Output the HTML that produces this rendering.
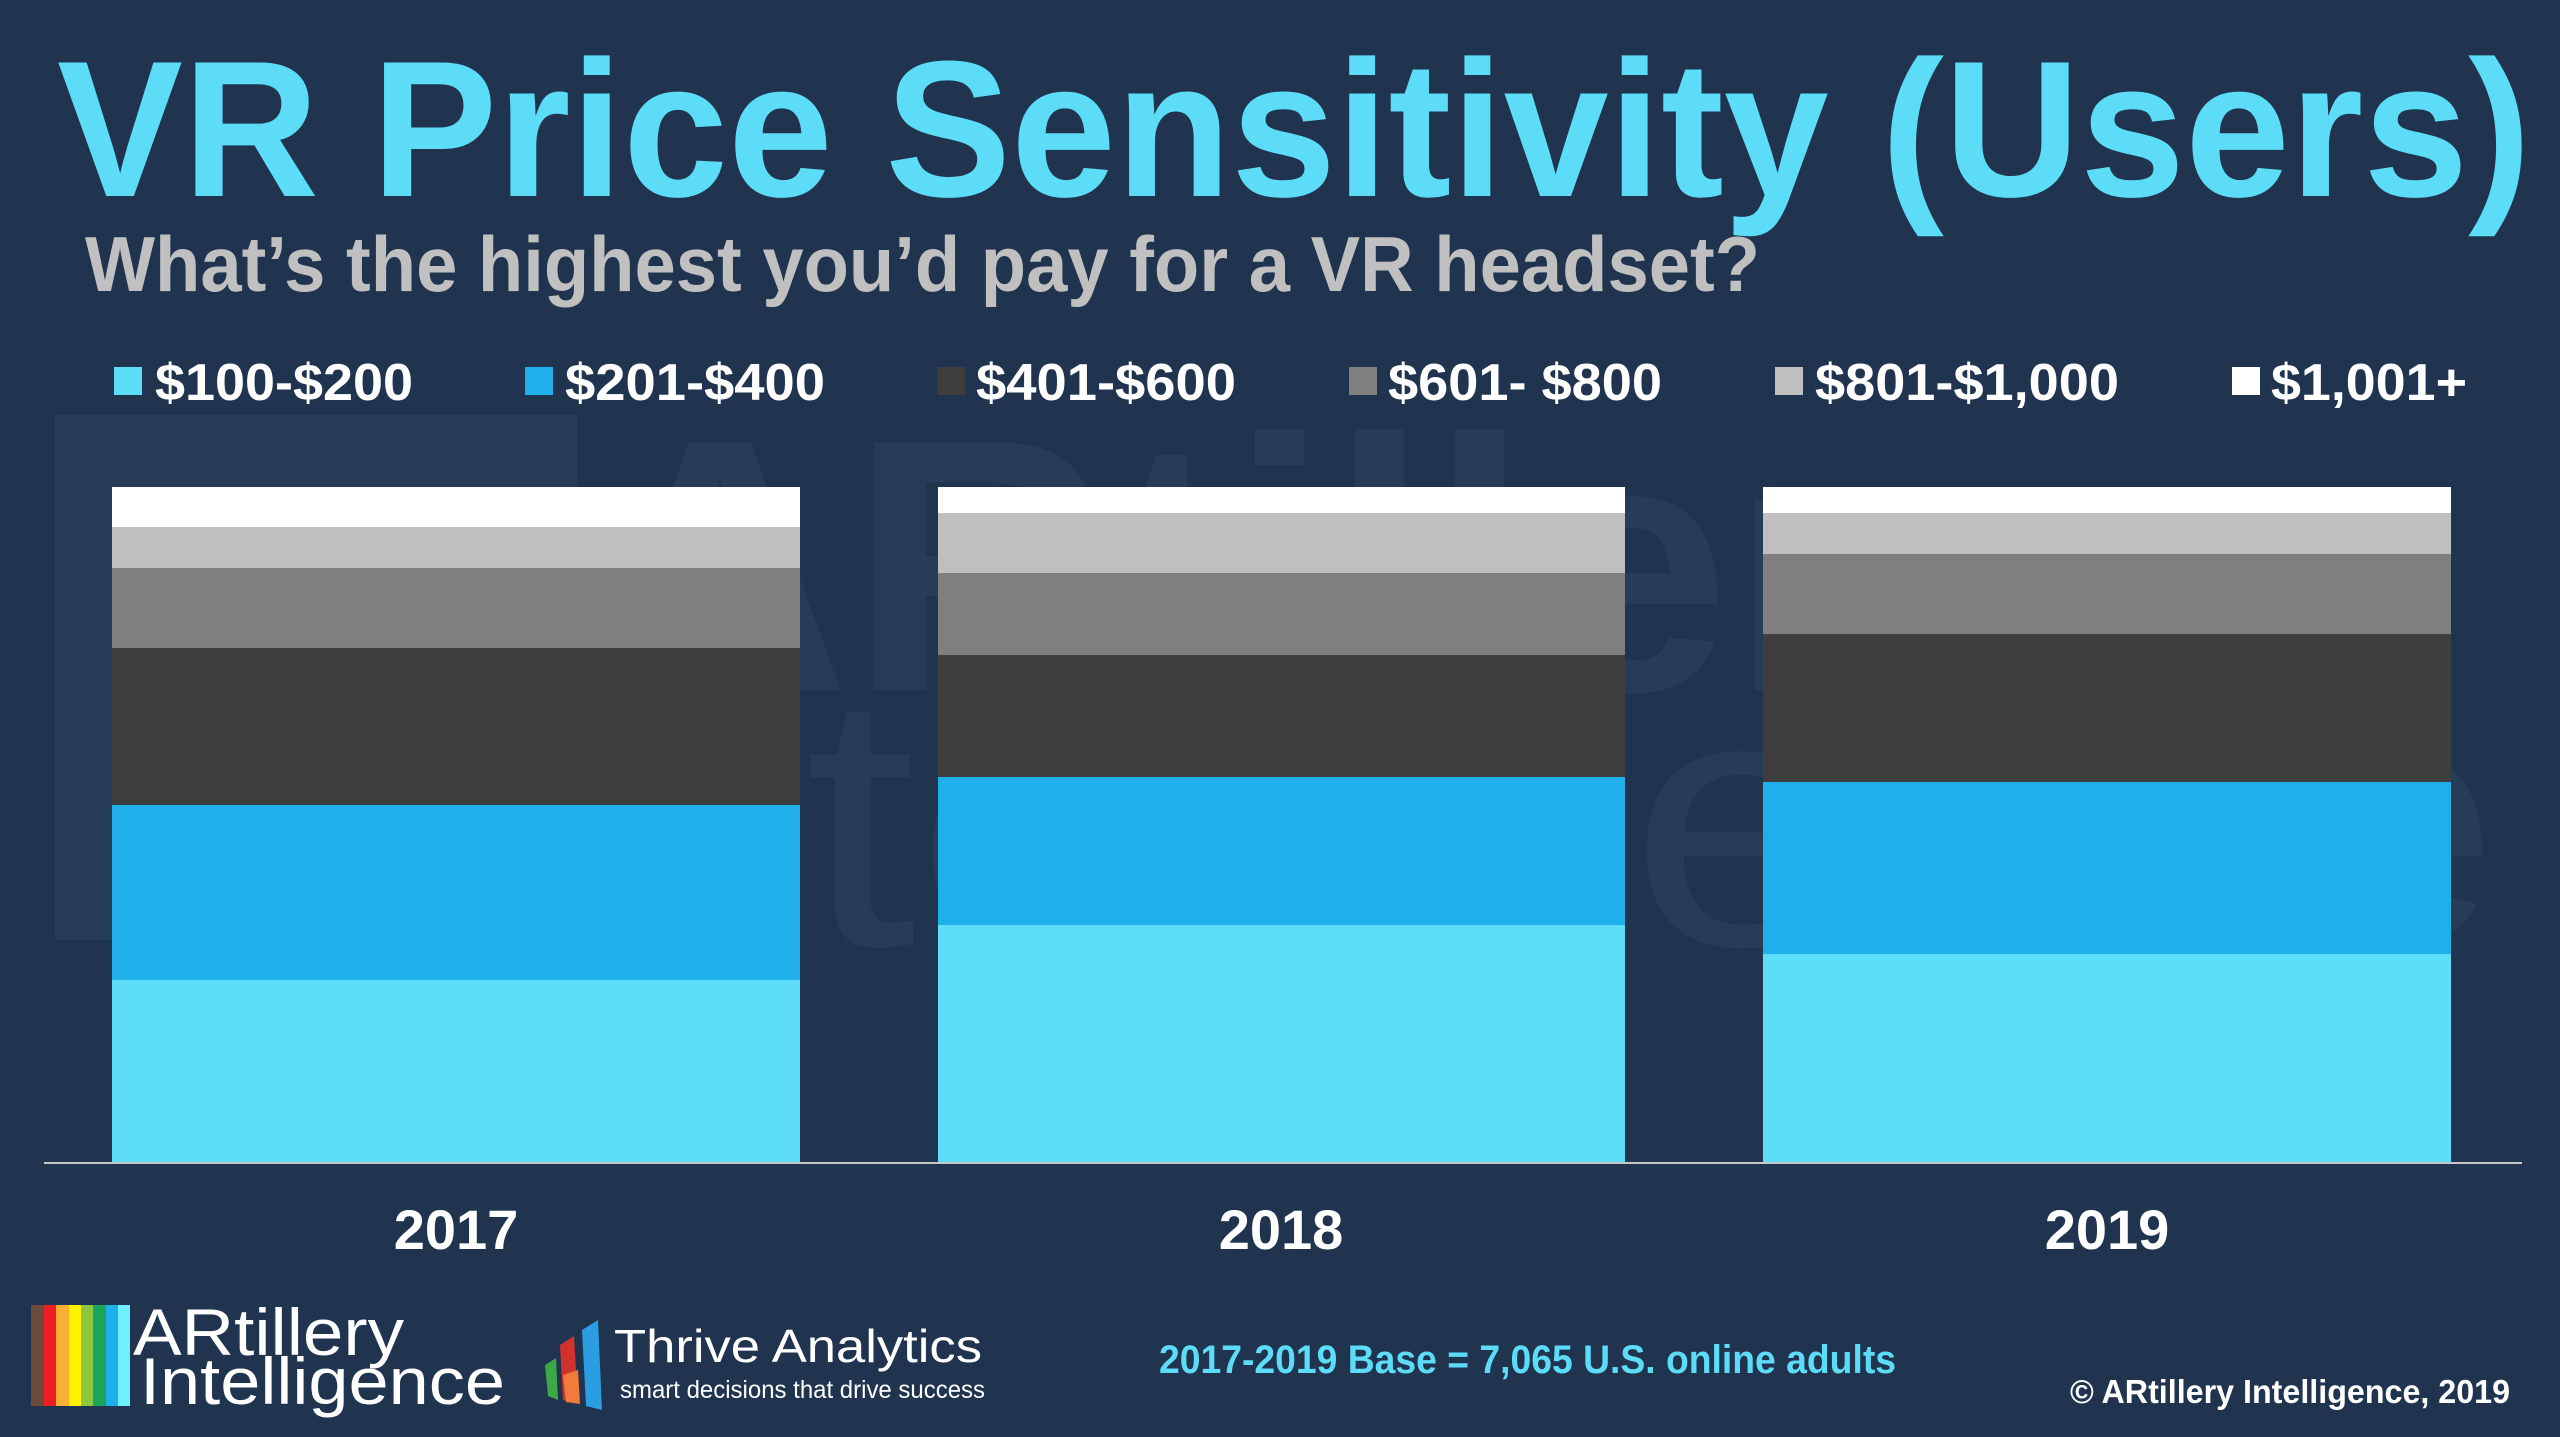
<!DOCTYPE html>
<html><head><meta charset="utf-8"><style>
html,body{margin:0;padding:0;background:#20344f;}
svg{display:block;}
</style></head><body>
<svg width="2560" height="1437" viewBox="0 0 2560 1437" xmlns="http://www.w3.org/2000/svg" font-family="'Liberation Sans', sans-serif">
<rect width="2560" height="1437" fill="#20344f"/>
<!-- watermark -->
<g fill="#273d57">
<rect x="55" y="415" width="522" height="525"/>
<text x="590" y="690" font-size="360" font-weight="bold">ARtillery</text>
<text x="470" y="945" font-size="360" font-weight="normal" textLength="2030" lengthAdjust="spacingAndGlyphs">Intelligence</text>
</g>
<!-- title -->
<text x="57" y="196" font-size="194" font-weight="bold" fill="#5ddcf7" textLength="2474" lengthAdjust="spacingAndGlyphs">VR Price Sensitivity (Users)</text>
<text x="85" y="291" font-size="78" font-weight="bold" fill="#c0c0c0" textLength="1675" lengthAdjust="spacingAndGlyphs">What’s the highest you’d pay for a VR headset?</text>
<!-- legend -->
<g font-size="52" font-weight="bold" fill="#ffffff">
<rect x="114" y="367" width="28" height="28" fill="#5ddcf7"/><text x="155" y="400" textLength="258" lengthAdjust="spacingAndGlyphs">$100-$200</text>
<rect x="525" y="367" width="28" height="28" fill="#1fb0ec"/><text x="565" y="400" textLength="260" lengthAdjust="spacingAndGlyphs">$201-$400</text>
<rect x="937" y="367" width="28" height="28" fill="#3e3e3e"/><text x="976" y="400" textLength="260" lengthAdjust="spacingAndGlyphs">$401-$600</text>
<rect x="1349" y="367" width="28" height="28" fill="#7f7f7f"/><text x="1388" y="400" textLength="274" lengthAdjust="spacingAndGlyphs">$601- $800</text>
<rect x="1775" y="367" width="28" height="28" fill="#bfbfbf"/><text x="1815" y="400" textLength="304" lengthAdjust="spacingAndGlyphs">$801-$1,000</text>
<rect x="2232" y="367" width="28" height="28" fill="#ffffff"/><text x="2271" y="400" textLength="196" lengthAdjust="spacingAndGlyphs">$1,001+</text>
</g>
<!-- bars 2017 -->
<g>
<rect x="112" y="487" width="688" height="40" fill="#ffffff"/>
<rect x="112" y="527" width="688" height="41" fill="#bfbfbf"/>
<rect x="112" y="568" width="688" height="80" fill="#7f7f7f"/>
<rect x="112" y="648" width="688" height="157" fill="#3e3e3e"/>
<rect x="112" y="805" width="688" height="175" fill="#1fb0ec"/>
<rect x="112" y="980" width="688" height="183" fill="#5ddef8"/>
</g>
<g>
<rect x="938" y="487" width="687" height="26" fill="#ffffff"/>
<rect x="938" y="513" width="687" height="60" fill="#bfbfbf"/>
<rect x="938" y="573" width="687" height="82" fill="#7f7f7f"/>
<rect x="938" y="655" width="687" height="122" fill="#3e3e3e"/>
<rect x="938" y="777" width="687" height="148" fill="#1fb0ec"/>
<rect x="938" y="925" width="687" height="238" fill="#5ddef8"/>
</g>
<g>
<rect x="1763" y="487" width="688" height="26" fill="#ffffff"/>
<rect x="1763" y="513" width="688" height="41" fill="#bfbfbf"/>
<rect x="1763" y="554" width="688" height="80" fill="#7f7f7f"/>
<rect x="1763" y="634" width="688" height="148" fill="#3e3e3e"/>
<rect x="1763" y="782" width="688" height="172" fill="#1fb0ec"/>
<rect x="1763" y="954" width="688" height="209" fill="#5ddef8"/>
</g>
<rect x="44" y="1162" width="2478" height="2" fill="#c8c8c8"/>
<!-- years -->
<g font-size="56" font-weight="bold" fill="#ffffff" text-anchor="middle">
<text x="456" y="1249">2017</text>
<text x="1281" y="1249">2018</text>
<text x="2107" y="1249">2019</text>
</g>
<!-- footer -->
<text x="1159" y="1373" font-size="40" font-weight="bold" fill="#5ddcf7" textLength="737" lengthAdjust="spacingAndGlyphs">2017-2019 Base = 7,065 U.S. online adults</text>
<text x="2070" y="1403" font-size="33" font-weight="bold" fill="#ffffff" textLength="440" lengthAdjust="spacingAndGlyphs">© ARtillery Intelligence, 2019</text>
<!-- ARtillery logo -->
<g>
<rect x="31" y="1305" width="13" height="101" fill="#6b4a3a"/>
<rect x="44" y="1305" width="12" height="101" fill="#ee1c24"/>
<rect x="56" y="1305" width="13" height="101" fill="#fbb034"/>
<rect x="69" y="1305" width="12" height="101" fill="#fff200"/>
<rect x="81" y="1305" width="12" height="101" fill="#8dc63f"/>
<rect x="93" y="1305" width="13" height="101" fill="#1aa55a"/>
<rect x="106" y="1305" width="12" height="101" fill="#1fb0ec"/>
<rect x="118" y="1305" width="12" height="101" fill="#6ff0ff"/>
<text x="133" y="1355" font-size="66" fill="#ffffff" textLength="271" lengthAdjust="spacingAndGlyphs">ARtillery</text>
<text x="140" y="1404" font-size="66" fill="#ffffff" textLength="365" lengthAdjust="spacingAndGlyphs">Intelligence</text>
</g>
<!-- Thrive logo -->
<g>
<polygon points="545,1365 556,1358 558,1400 548,1396" fill="#3aa845"/>
<polygon points="560,1345 574,1336 578,1404 563,1400" fill="#d2322d"/>
<polygon points="563,1375 578,1370 580,1404 566,1402" fill="#f07b3a"/>
<polygon points="582,1330 598,1320 602,1410 586,1406" fill="#2a9ee0"/>
<text x="614" y="1362" font-size="46" fill="#ffffff" textLength="368" lengthAdjust="spacingAndGlyphs">Thrive Analytics</text>
<text x="620" y="1398" font-size="25" fill="#ffffff" textLength="365" lengthAdjust="spacingAndGlyphs">smart decisions that drive success</text>
</g>
</svg>
</body></html>
